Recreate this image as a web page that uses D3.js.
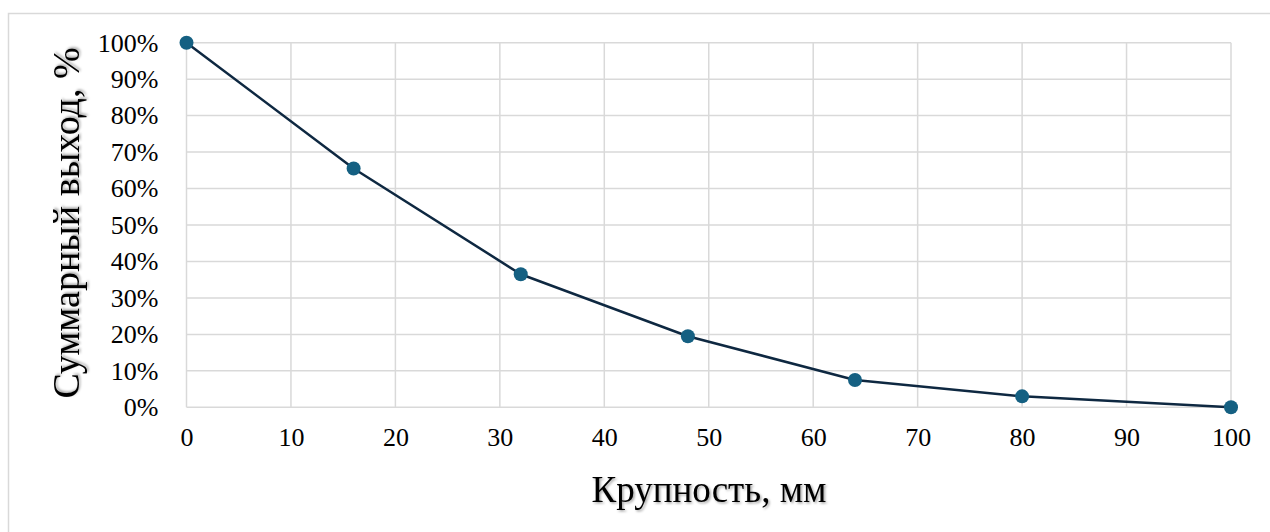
<!DOCTYPE html>
<html><head><meta charset="utf-8">
<script src="https://cdn.jsdelivr.net/npm/d3@7"></script>
<style>
body{margin:0;background:#fff;overflow:hidden}
svg{display:block}
text{font-family:"Liberation Serif","Times New Roman",serif;fill:#000}
</style></head><body>
<svg id="c" width="1270" height="532"></svg>
<script>
const sizes = [0, 16, 32, 48, 64, 80, 100];
const yieldPct = [100, 65.5, 36.5, 19.5, 7.5, 3, 0];
const xTicks = [0,10,20,30,40,50,60,70,80,90,100];
const yTicks = [0,10,20,30,40,50,60,70,80,90,100];
const xTitle = "Крупность, мм";
const yTitle = "Суммарный выход, %";

const svg = d3.select("#c");
const defs = svg.append("defs");
const f = defs.append("filter").attr("id","sh").attr("x","-10%").attr("y","-30%").attr("width","120%").attr("height","160%");
f.append("feDropShadow").attr("dx",1.5).attr("dy",1.5).attr("stdDeviation",1.3).attr("flood-color","#000").attr("flood-opacity",0.35);

svg.append("rect").attr("x",8.5).attr("y",13.5).attr("width",1300).attr("height",600)
  .attr("fill","none").attr("stroke","#d9d9d9").attr("stroke-width",1.5);

const x = d3.scaleLinear().domain([0,100]).range([186.5,1231]);
const y = d3.scaleLinear().domain([0,100]).range([407.3,42.7]);

const g = svg.append("g");
g.selectAll(".vg").data(xTicks).join("line")
  .attr("x1",d=>x(d)).attr("x2",d=>x(d)).attr("y1",y(0)).attr("y2",y(100))
  .attr("stroke","#d9d9d9").attr("stroke-width",1.5);
g.selectAll(".hg").data(yTicks).join("line")
  .attr("y1",d=>y(d)).attr("y2",d=>y(d)).attr("x1",x(0)).attr("x2",x(100))
  .attr("stroke","#d9d9d9").attr("stroke-width",1.5);

const xAxis = svg.append("g").attr("transform",`translate(0,${y(0)})`)
  .call(d3.axisBottom(x).tickValues(xTicks).tickSize(0).tickPadding(20).tickFormat(d3.format("d")));
xAxis.select(".domain").remove();
xAxis.selectAll("text").attr("font-size",26).attr("font-family","Liberation Serif").attr("fill","#000");

const yAxis = svg.append("g").attr("transform",`translate(${x(0)},0)`)
  .call(d3.axisLeft(y).tickValues(yTicks).tickSize(0).tickPadding(28).tickFormat(d=>d+"%"));
yAxis.select(".domain").remove();
yAxis.selectAll("text").attr("font-size",26).attr("font-family","Liberation Serif").attr("fill","#000");

const line = d3.line().x((d,i)=>x(sizes[i])).y(d=>y(d));
svg.append("path").datum(yieldPct).attr("d",line).attr("fill","none")
  .attr("stroke","#0e2841").attr("stroke-width",2.5).attr("stroke-linejoin","round");
svg.selectAll(".pt").data(yieldPct).join("circle")
  .attr("cx",(d,i)=>x(sizes[i])).attr("cy",d=>y(d)).attr("r",7).attr("fill","#156082");

svg.append("text").attr("x",709).attr("y",502).attr("text-anchor","middle")
  .attr("font-size",37).attr("filter","url(#sh)").text(xTitle);
svg.append("text").attr("transform","translate(79,223) rotate(-90)").attr("text-anchor","middle")
  .attr("font-size",38).attr("filter","url(#sh)").text(yTitle);
</script></body></html>
